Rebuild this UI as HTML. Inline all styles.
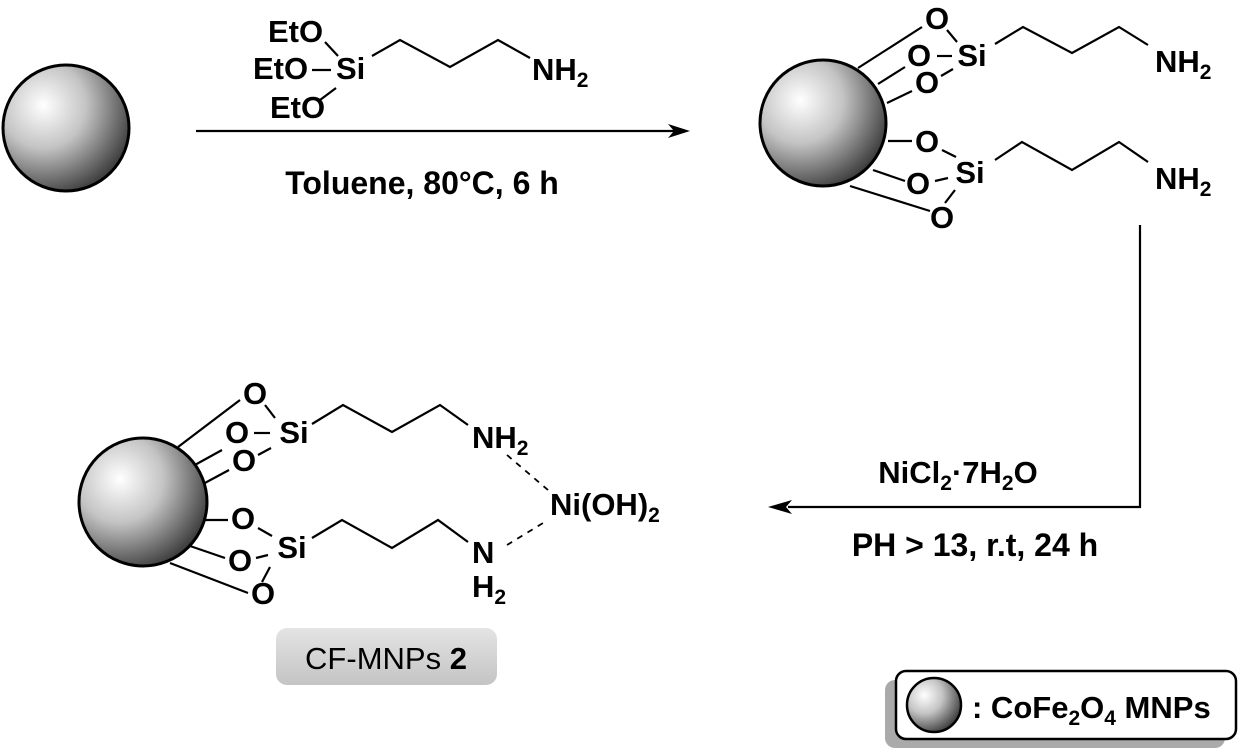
<!DOCTYPE html>
<html><head><meta charset="utf-8"><style>
html,body{margin:0;padding:0;background:#fff;}
svg{display:block;}
text{font-family:"Liberation Sans",Arial,sans-serif;font-weight:bold;fill:#000;}
</style></head><body>
<svg width="1245" height="753" viewBox="0 0 1245 753" xmlns="http://www.w3.org/2000/svg">
<defs>
<radialGradient id="sg" cx="0.32" cy="0.32" r="0.75">
<stop offset="0" stop-color="#ffffff"/>
<stop offset="0.45" stop-color="#c4c4c4"/>
<stop offset="1" stop-color="#3a3a3a"/>
</radialGradient>
<linearGradient id="bg" x1="0" y1="0" x2="0" y2="1">
<stop offset="0" stop-color="#e4e4e4"/>
<stop offset="1" stop-color="#c4c4c4"/>
</linearGradient>
</defs>
<g stroke="#000" stroke-width="2.2" fill="none">
<circle cx="66" cy="128" r="63" fill="url(#sg)" stroke-width="3"/>
<line x1="196" y1="131" x2="676" y2="131"/>
<line x1="325" y1="42" x2="338" y2="56"/>
<line x1="312" y1="70" x2="331" y2="70"/>
<line x1="320" y1="100" x2="336" y2="88"/>
<polyline points="372,56 400,40 450,67 498,40 530,58"/>
<line x1="858" y1="68" x2="922" y2="27"/>
<line x1="878" y1="84" x2="905" y2="67"/>
<line x1="887" y1="103" x2="912" y2="91"/>
<line x1="947" y1="30" x2="957" y2="42"/>
<line x1="937" y1="56" x2="952" y2="56"/>
<line x1="941" y1="76" x2="953" y2="69"/>
<polyline points="995,44 1023,27 1072,53 1119,27 1148,45"/>
<line x1="888" y1="141" x2="912" y2="141"/>
<line x1="873" y1="170" x2="905" y2="181"/>
<line x1="850" y1="186" x2="930" y2="211"/>
<line x1="942" y1="150" x2="956" y2="157"/>
<line x1="935" y1="181" x2="948" y2="178"/>
<line x1="945" y1="203" x2="955" y2="190"/>
<polyline points="995,160 1022,142 1072,170 1119,142 1148,162"/>
<circle cx="823" cy="123" r="63" fill="url(#sg)" stroke-width="3"/>
<polyline points="1140,225 1140,507 788,507"/>
<line x1="178" y1="447" x2="240" y2="400"/>
<line x1="193" y1="466" x2="222" y2="450"/>
<line x1="203" y1="484" x2="229" y2="470"/>
<line x1="265" y1="405" x2="275" y2="418"/>
<line x1="254" y1="433" x2="270" y2="433"/>
<line x1="258" y1="455" x2="271" y2="448"/>
<polyline points="312,424 343,405 392,432 440,405 468,425"/>
<line x1="205" y1="520" x2="228" y2="520"/>
<line x1="190" y1="546" x2="225" y2="558"/>
<line x1="170" y1="563" x2="248" y2="593"/>
<line x1="258" y1="528" x2="272" y2="536"/>
<line x1="256" y1="558" x2="268" y2="555"/>
<line x1="262" y1="582" x2="270" y2="567"/>
<polyline points="312,538 342,520 392,548 438,520 468,542"/>
<line x1="507" y1="455" x2="548" y2="490" stroke-dasharray="6,6" stroke-width="1.8"/>
<line x1="507" y1="545" x2="548" y2="520" stroke-dasharray="6,6" stroke-width="1.8"/>
<circle cx="143" cy="502" r="64" fill="url(#sg)" stroke-width="3"/>
</g>
<polygon points="690,131 668,124 674,131 668,138" fill="#000"/>
<polygon points="768,507 792,500 786,507 792,514" fill="#000"/>

<g font-size="31">
<text x="268" y="42">EtO</text>
<text x="253" y="79">EtO</text>
<text x="336" y="79">Si</text>
<text x="270" y="118">EtO</text>
<text x="532" y="80">NH<tspan font-size="21" dy="7">2</tspan></text>
<text x="422" y="194" text-anchor="middle" font-size="32">Toluene, 80°C, 6 h</text>

<text x="937" y="29" text-anchor="middle">O</text>
<text x="919" y="66" text-anchor="middle">O</text>
<text x="972" y="66" text-anchor="middle">Si</text>
<text x="927" y="93" text-anchor="middle">O</text>
<text x="1155" y="72">NH<tspan font-size="21" dy="7">2</tspan></text>
<text x="927" y="152" text-anchor="middle">O</text>
<text x="970" y="183" text-anchor="middle">Si</text>
<text x="918" y="194" text-anchor="middle">O</text>
<text x="942" y="228" text-anchor="middle">O</text>
<text x="1155" y="189">NH<tspan font-size="21" dy="7">2</tspan></text>

<text x="958" y="483" text-anchor="middle" font-size="31">NiCl<tspan font-size="21" dy="7">2</tspan><tspan dy="-7">·7H</tspan><tspan font-size="21" dy="7">2</tspan><tspan dy="-7">O</tspan></text>
<text x="975" y="556" text-anchor="middle" font-size="32">PH &gt; 13, r.t, 24 h</text>

<text x="255" y="404" text-anchor="middle">O</text>
<text x="237" y="443" text-anchor="middle">O</text>
<text x="294" y="443" text-anchor="middle">Si</text>
<text x="244" y="471" text-anchor="middle">O</text>
<text x="472" y="448">NH<tspan font-size="21" dy="7">2</tspan></text>
<text x="550" y="515">Ni(OH)<tspan font-size="21" dy="7">2</tspan></text>
<text x="243" y="529" text-anchor="middle">O</text>
<text x="292" y="558" text-anchor="middle">Si</text>
<text x="240" y="571" text-anchor="middle">O</text>
<text x="263" y="604" text-anchor="middle">O</text>
<text x="472" y="563">N</text>
<text x="472" y="597">H<tspan font-size="21" dy="7">2</tspan></text>
</g>

<rect x="276" y="628" width="221" height="57" rx="11" fill="url(#bg)"/>
<text x="386" y="669" text-anchor="middle" font-size="31" style="font-weight:normal">CF-MNPs <tspan font-weight="bold">2</tspan></text>

<rect x="885" y="680" width="340" height="68" rx="10" fill="#aaa"/>
<rect x="896" y="671" width="340" height="68" rx="10" fill="#fff" stroke="#000" stroke-width="2.5"/>
<circle cx="934" cy="705" r="27" fill="url(#sg)" stroke="#000" stroke-width="2.5"/>
<text x="972" y="718" font-size="31">: CoFe<tspan font-size="21" dy="7">2</tspan><tspan dy="-7">O</tspan><tspan font-size="21" dy="7">4</tspan><tspan dy="-7"> MNPs</tspan></text>
</svg>
</body></html>
